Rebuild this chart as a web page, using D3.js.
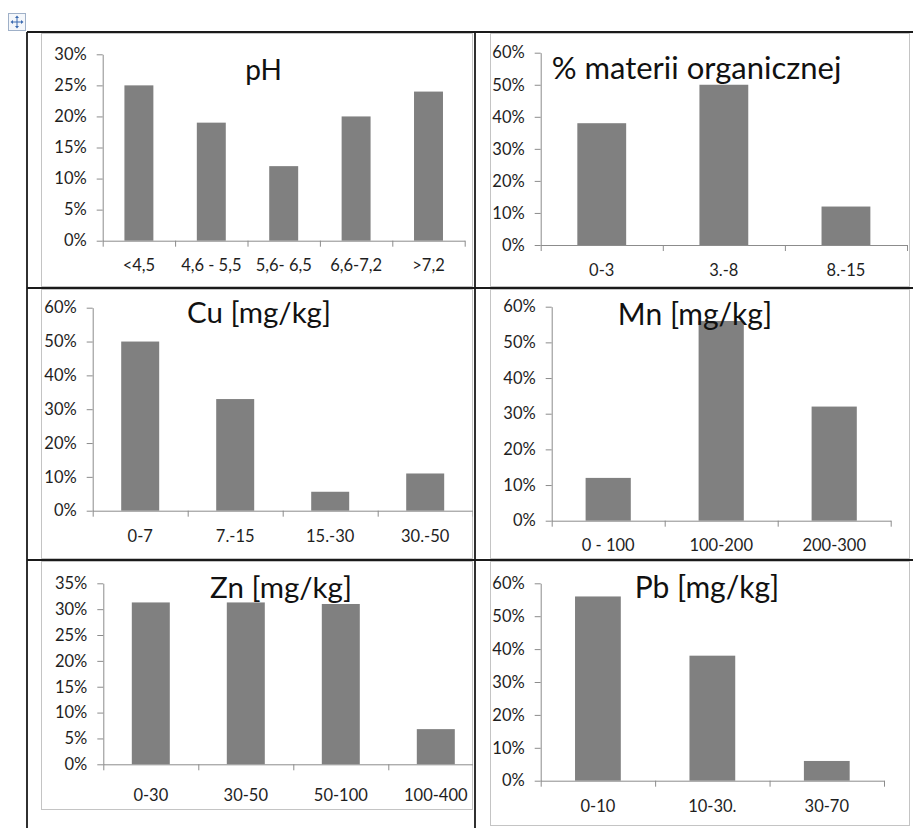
<!DOCTYPE html>
<html>
<head>
<meta charset="utf-8">
<script src="https://cdn.jsdelivr.net/npm/d3@7"></script>
<style>
  html, body { margin: 0; padding: 0; background: #fff; }
  svg { display: block; font-family: Lato, "Open Sans", sans-serif; }
</style>
</head>
<body>
<svg id="chart" width="913" height="828"></svg>
<script>
// ---- data: share of samples (%) in each class ----
const phCategories = ["<4,5", "4,6 - 5,5", "5,6- 6,5", "6,6-7,2", ">7,2"];
const phValues     = [25, 19, 12, 20, 24];
const phTicks      = [0, 5, 10, 15, 20, 25, 30];

const omCategories = ["0-3", "3.-8", "8.-15"];
const omValues     = [38, 50, 12];
const omTicks      = [0, 10, 20, 30, 40, 50, 60];

const cuCategories = ["0-7", "7.-15", "15.-30", "30.-50"];
const cuValues     = [50, 33, 5.6, 11];
const cuTicks      = [0, 10, 20, 30, 40, 50, 60];

const mnCategories = ["0 - 100", "100-200", "200-300"];
const mnValues     = [12, 56, 32];
const mnTicks      = [0, 10, 20, 30, 40, 50, 60];

const znCategories = ["0-30", "30-50", "50-100", "100-400"];
const znValues     = [31.3, 31.3, 31.0, 6.8];
const znTicks      = [0, 5, 10, 15, 20, 25, 30, 35];

const pbCategories = ["0-10", "10-30.", "30-70"];
const pbValues     = [56, 38, 6];
const pbTicks      = [0, 10, 20, 30, 40, 50, 60];

// ---- layout of the six panels ----
const panels = [
  { title: "pH", cats: phCategories, vals: phValues, ticks: phTicks,
    cell: [41, 33, 473, 287], x0: 102.7, x1: 464.7, yTop: 54.3, yBase: 240.7,
    tx: 263.5, ty: 80, anchor: "middle", tSize: 28, labPad: 13 },
  { title: "% materii organicznej", cats: omCategories, vals: omValues, ticks: omTicks,
    cell: [490, 33, 910, 287], x0: 540.7, x1: 907, yTop: 52.7, yBase: 245,
    tx: 551.7, ty: 79, anchor: "start", tSize: 31, labPad: 13 },
  { title: "Cu [mg/kg]", cats: cuCategories, vals: cuValues, ticks: cuTicks,
    cell: [41, 289, 473, 559], x0: 92.7, x1: 472.7, yTop: 307.7, yBase: 510.7,
    tx: 259, ty: 323, anchor: "middle", tSize: 29.5, labPad: 14 },
  { title: "Mn [mg/kg]", cats: mnCategories, vals: mnValues, ticks: mnTicks,
    cell: [490, 289, 910, 559], x0: 551.7, x1: 890.7, yTop: 306.7, yBase: 520.7,
    tx: 695, ty: 325, anchor: "middle", tSize: 30, labPad: 13 },
  { title: "Zn [mg/kg]", cats: znCategories, vals: znValues, ticks: znTicks,
    cell: [41, 561, 473, 810], x0: 103.3, x1: 483.3, yTop: 583.3, yBase: 764.3,
    tx: 281, ty: 598, anchor: "middle", tSize: 29.5, labPad: 19 },
  { title: "Pb [mg/kg]", cats: pbCategories, vals: pbValues, ticks: pbTicks,
    cell: [490, 561, 910, 826], x0: 540.7, x1: 884, yTop: 583.3, yBase: 780.7,
    tx: 707, ty: 598, anchor: "middle", tSize: 30, labPad: 14 }
];

const svg = d3.select("#chart");
const defs = svg.append("defs");

// ---- table grid that holds the charts ----
const grid = svg.append("g").attr("stroke", "#1a1a1a").attr("stroke-width", 1.8);
grid.append("line").attr("x1", 27).attr("x2", 913).attr("y1", 32).attr("y2", 32);
grid.append("line").attr("x1", 27).attr("x2", 913).attr("y1", 288).attr("y2", 288);
grid.append("line").attr("x1", 27).attr("x2", 913).attr("y1", 560).attr("y2", 560);
grid.append("line").attr("x1", 27).attr("x2", 27).attr("y1", 32).attr("y2", 828);
grid.append("line").attr("x1", 475).attr("x2", 475).attr("y1", 32).attr("y2", 828);

// table move handle
const handle = svg.append("g").attr("transform", "translate(8.5,13.5)");
handle.append("rect").attr("width", 17).attr("height", 17)
  .attr("fill", "#f4f7fb").attr("stroke", "#9fb0c8");
const arrows = handle.append("g").attr("stroke", "#3a6ab0").attr("fill", "#3a6ab0").attr("stroke-width", 1);
arrows.append("line").attr("x1", 8.5).attr("x2", 8.5).attr("y1", 3.5).attr("y2", 13.5);
arrows.append("line").attr("x1", 3.5).attr("x2", 13.5).attr("y1", 8.5).attr("y2", 8.5);
arrows.append("path").attr("stroke", "none").attr("d",
  "M8.5,2 L6.5,4.5 L10.5,4.5Z M8.5,15 L6.5,12.5 L10.5,12.5Z M2,8.5 L4.5,6.5 L4.5,10.5Z M15,8.5 L12.5,6.5 L12.5,10.5Z");

// ---- one bar chart per panel ----
panels.forEach((p, i) => {
  const [cx0, cy0, cx1, cy1] = p.cell;

  defs.append("clipPath").attr("id", "clip" + i)
    .append("rect").attr("x", cx0).attr("y", cy0).attr("width", cx1 - cx0).attr("height", cy1 - cy0);

  const g = svg.append("g").attr("clip-path", `url(#clip${i})`);

  // chart area frame
  g.append("rect")
    .attr("x", cx0 + 0.5).attr("y", cy0 + 0.5)
    .attr("width", cx1 - cx0 - 1).attr("height", cy1 - cy0 - 1)
    .attr("fill", "#fff").attr("stroke", "#c4c4c4").attr("stroke-width", 1);

  const yMax = p.ticks[p.ticks.length - 1];
  const y = d3.scaleLinear().domain([0, yMax]).range([p.yBase, p.yTop]);
  const x = d3.scaleBand().domain(p.cats).range([p.x0, p.x1])
    .paddingInner(0.6).paddingOuter(0.3);
  const xEdge = d3.scaleLinear().domain([0, p.cats.length]).range([p.x0, p.x1]);

  // bars
  g.append("g").selectAll("rect").data(p.cats).join("rect")
    .attr("x", d => x(d))
    .attr("width", x.bandwidth())
    .attr("y", (d, k) => y(p.vals[k]))
    .attr("height", (d, k) => y(0) - y(p.vals[k]))
    .attr("fill", "#808080");

  // value axis
  const yAxis = g.append("g").attr("transform", `translate(${p.x0},0)`)
    .call(d3.axisLeft(y).tickValues(p.ticks).tickFormat(d => d + "%")
      .tickSize(6).tickSizeOuter(0).tickPadding(10));

  // category axis: boundary tick marks
  const xAxisLine = g.append("g").attr("transform", `translate(0,${p.yBase})`)
    .call(d3.axisBottom(xEdge).tickValues(d3.range(p.cats.length + 1))
      .tickFormat("").tickSize(6).tickSizeOuter(0));

  // category axis: labels centred under the bars
  const xAxisLabels = g.append("g").attr("transform", `translate(0,${p.yBase})`)
    .call(d3.axisBottom(x).tickSize(6).tickPadding(p.labPad));
  xAxisLabels.select(".domain").remove();
  xAxisLabels.selectAll(".tick line").remove();

  [yAxis, xAxisLine].forEach(a => {
    a.selectAll(".domain, .tick line").attr("stroke", "#8c8c8c");
  });
  [yAxis, xAxisLabels].forEach(a => {
    a.selectAll("text").attr("fill", "#1e1e1e")
      .style("font-family", "Lato, sans-serif").style("font-size", "16.5px");
  });

  // title
  svg.append("text")
    .attr("x", p.tx).attr("y", p.ty)
    .attr("text-anchor", p.anchor)
    .attr("fill", "#111")
    .style("font-size", p.tSize + "px")
    .text(p.title);
});
</script>
</body>
</html>
